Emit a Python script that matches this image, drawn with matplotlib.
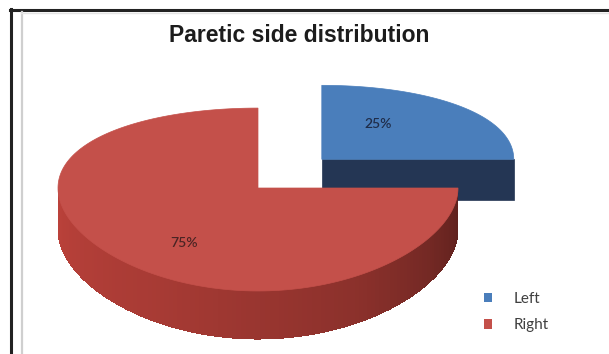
import numpy as np
import matplotlib.pyplot as plt
from matplotlib.patches import Polygon, Rectangle
from matplotlib.lines import Line2D

# data
labels = ['Left', 'Right']
values = [25, 75]
pct_text = ['25%', '75%']
top_colors = ['#4A7EBB', '#C4504A']
side_rgb = [(0.14, 0.21, 0.33), (0.80, 0.28, 0.25)]
text_colors = ['#1F2D4A', '#4A2424']
explode = [0.47, 0.0]
label_r = [0.54, 0.68]

W, H = 609, 354
fig = plt.figure(figsize=(6.09, 3.54), dpi=100)
ax = fig.add_axes([0, 0, 1, 1])
ax.set_xlim(0, W)
ax.set_ylim(H, 0)
ax.axis('off')

# 3d pie geometry (pixels)
cx, cy = 258, 188
A, B = 200, 90
k = 0.126
depth = 42


def proj(u, v, z, sx):
    s = 1 / (1 + k * v)
    return cx + A * sx * u, cy - B * v * s + depth * z * s


def shade(rgb, f):
    return tuple(min(1, c * f) for c in rgb)


fracs = np.array(values) / sum(values)
start = 90.0
slices = []
for i, fr in enumerate(fracs):
    a1 = start
    a2 = start - fr * 360
    mid = np.radians((a1 + a2) / 2)
    du, dv = explode[i] * np.cos(mid), explode[i] * np.sin(mid)
    sx = 1 / (1 + k * dv)
    slices.append((a1, a2, du, dv, sx, mid))
    start = a2

# back slice first (Left), then front slice (Right)
for i in [0, 1]:
    a1, a2, du, dv, sx, mid = slices[i]
    th = np.radians(np.linspace(a1, a2, 200))

    # straight cut face along the horizontal edge, facing the viewer
    for a in [a1, a2]:
        ar = np.radians(a)
        if explode[i] > 0 and abs(np.sin(ar)) < 1e-6:
            pts = [proj(du, dv, 0, sx), proj(du + np.cos(ar), dv, 0, sx),
                   proj(du + np.cos(ar), dv, 1, sx), proj(du, dv, 1, sx)]
            ax.add_patch(Polygon(pts, closed=True, fc=side_rgb[i], ec=side_rgb[i], lw=0.5))

    # curved outer side (front half only)
    vis = th[np.sin(th) <= 0]
    if len(vis) > 1:
        for t0, t1 in zip(vis[:-1], vis[1:]):
            deg = np.degrees((t0 + t1) / 2) % 360 - 360
            f = np.interp(deg, [-180, -120, -60, -20, 0], [0.92, 0.82, 0.68, 0.52, 0.45])
            c = shade(side_rgb[i], f)
            pts = [proj(du + np.cos(t0), dv + np.sin(t0), 0, sx),
                   proj(du + np.cos(t1), dv + np.sin(t1), 0, sx),
                   proj(du + np.cos(t1), dv + np.sin(t1), 1, sx),
                   proj(du + np.cos(t0), dv + np.sin(t0), 1, sx)]
            ax.add_patch(Polygon(pts, closed=True, fc=c, ec='none', antialiased=False))

    # top face
    pts = [proj(du, dv, 0, sx)] + [proj(du + np.cos(t), dv + np.sin(t), 0, sx) for t in th]
    ax.add_patch(Polygon(pts, closed=True, fc=top_colors[i], ec=top_colors[i], lw=0.5))

# percentage labels
for i in [0, 1]:
    a1, a2, du, dv, sx, mid = slices[i]
    la = mid + np.radians(12)
    x, y = proj(du + label_r[i] * np.cos(la), dv + label_r[i] * np.sin(la), 0, sx)
    ax.text(x, y, pct_text[i], ha='center', va='center', fontsize=10,
            family='Lato', fontweight='semibold', color=text_colors[i])

ax.text(299, 36, 'Paretic side distribution', ha='center', va='center',
        fontsize=16.5, fontweight='bold', family='Liberation Sans', color='#1c1c1c')

handles = [Rectangle((0, 0), 1, 1, fc=c, ec='none') for c in top_colors]
ax.legend(handles, labels, loc='center left', bbox_to_anchor=(484, 312),
          bbox_transform=ax.transData, frameon=False, borderpad=0, borderaxespad=0,
          handlelength=0.55, handleheight=0.55, handletextpad=1.4, labelspacing=0.85,
          prop={'family': 'Lato', 'size': 11}, labelcolor='#404040')

# outer frame
ax.add_line(Line2D([10, W], [9.5, 9.5], color='#222222', lw=2.2))
ax.add_line(Line2D([11, 11], [9, H], color='#222222', lw=2.2))
ax.add_line(Line2D([21.5, 21.5], [12, H], color='#cfcfcf', lw=1.6))
ax.add_line(Line2D([21, W], [12.5, 12.5], color='#e4e4e4', lw=1.0))

fig.savefig('out.png', dpi=100)
